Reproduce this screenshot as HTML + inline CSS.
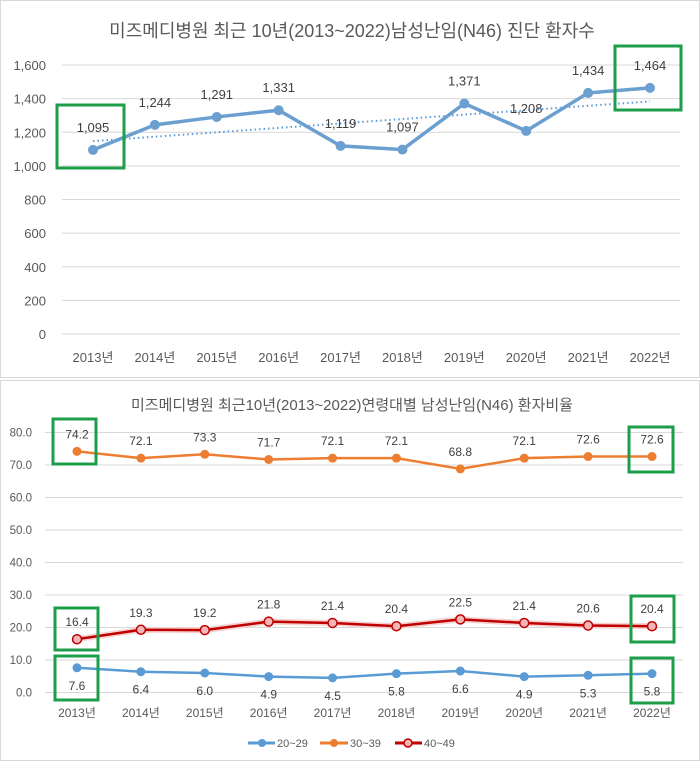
<!DOCTYPE html>
<html><head><meta charset="utf-8"><style>
html,body{margin:0;padding:0;background:#fff;}
svg{display:block;font-family:"Liberation Sans","Noto Sans CJK KR",sans-serif;}
</style></head><body>
<svg id="c" width="700" height="762" viewBox="0 0 700 762">
<rect x="0.5" y="0.5" width="699" height="377" fill="#fff" stroke="#d9d9d9"/>
<rect x="0.5" y="380.5" width="699" height="380" fill="#fff" stroke="#d9d9d9"/>
<text x="352" y="37" text-anchor="middle" font-size="18" fill="#595959">미즈메디병원 최근 10년(2013~2022)남성난임(N46) 진단 환자수</text>
<text x="352" y="410" text-anchor="middle" font-size="15" fill="#595959">미즈메디병원 최근10년(2013~2022)연령대별 남성난임(N46) 환자비율</text>
<g id="top"></g><g id="bot"></g>
<g>
<g><line x1="248" y1="743" x2="275" y2="743" stroke="#5b9bd5" stroke-width="3"/><circle cx="262" cy="743" r="4" fill="#5b9bd5"/><text x="277" y="747" font-size="11" fill="#595959">20~29</text></g>
<g><line x1="320" y1="743" x2="348" y2="743" stroke="#ed7d31" stroke-width="3"/><circle cx="334" cy="743" r="4" fill="#ed7d31"/><text x="350" y="747" font-size="11" fill="#595959">30~39</text></g>
<g><line x1="395" y1="743" x2="422" y2="743" stroke="#c00000" stroke-width="3"/><circle cx="408" cy="743" r="4" fill="#f4b6b6" stroke="#c00000" stroke-width="1.5"/><text x="424" y="747" font-size="11" fill="#595959">40~49</text></g>
</g>
</svg>
<script>
const years=["2013년","2014년","2015년","2016년","2017년","2018년","2019년","2020년","2021년","2022년"];
const patients=[1095,1244,1291,1331,1119,1097,1371,1208,1434,1464];
const topTicks=[0,200,400,600,800,1000,1200,1400,1600];
const s2029=[7.6,6.4,6.0,4.9,4.5,5.8,6.6,4.9,5.3,5.8];
const s3039=[74.2,72.1,73.3,71.7,72.1,72.1,68.8,72.1,72.6,72.6];
const s4049=[16.4,19.3,19.2,21.8,21.4,20.4,22.5,21.4,20.6,20.4];
const botTicks=[0,10,20,30,40,50,60,70,80];
const NS="http://www.w3.org/2000/svg";
function mk(p,t,a){const e=document.createElementNS(NS,t);for(const k in a)e.setAttribute(k,a[k]);p.appendChild(e);return e;}
function fmt(v){return v.toLocaleString('en-US');}
const T=document.getElementById('top');
const tx=i=>93+i*(650-93)/(years.length-1);
const ty=v=>334-v*(334-65)/1600;
topTicks.forEach(v=>{
 const l=mk(T,'line',{x1:62,x2:680,y1:ty(v),y2:ty(v),stroke:'#d9d9d9','stroke-width':1});
 
 
 const t=mk(T,'text',{x:46,y:ty(v)+5,'text-anchor':'end','font-size':13,fill:'#595959'});t.textContent=fmt(v);
 
 
});
years.forEach((y,i)=>{const t=mk(T,'text',{x:tx(i),y:362,'text-anchor':'middle','font-size':13,fill:'#595959'});t.textContent=y;
 
 });
const n=patients.length;let sx=0,sy=0,sxy=0,sxx=0;patients.forEach((v,i)=>{sx+=i;sy+=v;sxy+=i*v;sxx+=i*i;});
const b=(n*sxy-sx*sy)/(n*sxx-sx*sx),a=(sy-b*sx)/n;
const tr=mk(T,'line',{x1:tx(0),y1:ty(a),x2:tx(n-1),y2:ty(a+b*(n-1)),stroke:'#5b9bd5','stroke-width':2,'stroke-dasharray':'1.5 3'});


const pl=mk(T,'polyline',{points:patients.map((v,i)=>tx(i)+','+ty(v)).join(' '),fill:'none',stroke:'#6a9fd0','stroke-width':3.5});


patients.forEach((v,i)=>{const c=mk(T,'circle',{cx:tx(i),cy:ty(v),r:5,fill:'#6a9fd0'});
 
 
 const t=mk(T,'text',{x:tx(i),y:ty(v)-18,'text-anchor':'middle','font-size':13,fill:'#404040'});t.textContent=fmt(v);
 
 });
const B=document.getElementById('bot');
const bx=i=>77+i*(652-77)/(years.length-1);
const by=v=>692.5-v*(692.5-432.5)/80;
botTicks.forEach(v=>{
 const l=mk(B,'line',{x1:45,x2:683,y1:by(v),y2:by(v),stroke:'#d9d9d9','stroke-width':1});
 
 
 const t=mk(B,'text',{x:32,y:by(v)+4,'text-anchor':'end','font-size':11.5,fill:'#595959'});t.textContent=v.toFixed(1);
 
 
});
years.forEach((y,i)=>{const t=mk(B,'text',{x:bx(i),y:717,'text-anchor':'middle','font-size':12,fill:'#595959'});t.textContent=y;
 
 });
function series(arr,col,fill,name,dy,glow){
 if(glow){const g=mk(B,'polyline',{points:arr.map((v,i)=>bx(i)+','+by(v)).join(' '),fill:'none',stroke:'#f6d2d2','stroke-width':6});
  
  }
 const p=mk(B,'polyline',{points:arr.map((v,i)=>bx(i)+','+by(v)).join(' '),fill:'none',stroke:col,'stroke-width':2.5});
 
 
 arr.forEach((v,i)=>{const c=mk(B,'circle',{cx:bx(i),cy:by(v),r:4.5,fill:fill,stroke:col,'stroke-width':glow?1.5:0});
  
  
  const t=mk(B,'text',{x:bx(i),y:by(v)+dy,'text-anchor':'middle','font-size':12,fill:'#404040'});t.textContent=v.toFixed(1);
  
  });
}
series(s2029,'#5b9bd5','#5b9bd5','age-20-29',22,false);
series(s3039,'#ed7d31','#ed7d31','age-30-39',-13,false);
series(s4049,'#c00000','#f4b6b6','age-40-49',-13,true);
const boxes=[[57,105,67,63],[615,46,66,64],[53,419,43,45],[629,427,44,45],[55,608,43,42],[631,596,43,46],[55,656,43,44],[631,658,42,45]];
boxes.forEach(bb=>{const r=mk(document.getElementById('c'),'rect',{x:bb[0],y:bb[1],width:bb[2],height:bb[3],fill:'none',stroke:'#1e9e4a','stroke-width':3});
 
 });
</script>
</body></html>
